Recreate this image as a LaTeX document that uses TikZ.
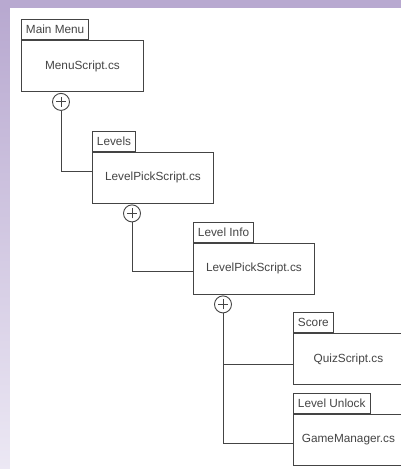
\documentclass[tikz,border=0pt]{standalone}
\usepackage{fontspec}
\setmainfont{Liberation Sans}
\definecolor{bgpurple}{HTML}{B8A9D0}
\definecolor{bglight}{HTML}{ECE8F4}
\definecolor{linegray}{HTML}{444444}
\definecolor{textgray}{HTML}{454545}
\begin{document}
\begin{tikzpicture}[x=1pt,y=-1pt,
  every node/.style={font=\fontsize{11.8}{13}\selectfont, text=textgray},
  lbl/.style={draw=linegray, line width=0.9pt, fill=white, anchor=south west,
    minimum height=20pt, inner xsep=4.5pt, inner ysep=0pt},
  panel/.style={draw=linegray, line width=0.9pt, fill=white, anchor=north west,
    minimum height=51pt, minimum width=121pt},
  wire/.style={draw=linegray, line width=0.9pt},
  plus/.style={circle, draw=linegray, line width=0.9pt, fill=white,
    minimum size=17pt, inner sep=0pt,
    path picture={\draw[linegray, line width=0.9pt]
      ([xshift=-5pt]path picture bounding box.center) -- ([xshift=5pt]path picture bounding box.center)
      ([yshift=-5pt]path picture bounding box.center) -- ([yshift=5pt]path picture bounding box.center);}}
]
% page background: purple frame at top and left, white sheet
\useasboundingbox (0,0) rectangle (401,469);
\fill[bgpurple] (0,0) rectangle (401,469);
\shade[top color=bgpurple, bottom color=bglight] (0,8) rectangle (10,469);
\fill[white] (10,8) rectangle (401,469);

% panels
\node[panel, minimum width=122pt] (menu) at (21,40) {MenuScript.cs};
\node[lbl] (menutab) at (menu.north west) {Main Menu};

\node[panel] (levels) at (92,151.5) {LevelPickScript.cs};
\node[lbl] (levelstab) at (levels.north west) {Levels};

\node[panel] (info) at (193,242.5) {LevelPickScript.cs};
\node[lbl] (infotab) at (info.north west) {Level Info};

\node[panel, minimum width=110pt] (score) at (293,333) {QuizScript.cs};
\node[lbl] (scoretab) at (score.north west) {Score};

\node[panel, minimum width=110pt] (unlock) at (293,413.5) {GameManager.cs};
\node[lbl] (unlocktab) at (unlock.north west) {Level Unlock};

% composition markers
\node[plus] (p1) at ([xshift=40pt, yshift=-10pt]menu.south west) {};
\node[plus] (p2) at ([xshift=40pt, yshift=-10pt]levels.south west) {};
\node[plus] (p3) at ([xshift=30pt, yshift=-10pt]info.south west) {};

% connectors
\coordinate (levelsin) at ([yshift=-20pt]levels.north west);
\coordinate (infoin) at ([yshift=-29pt]info.north west);
\coordinate (scorein) at ([yshift=-31pt]score.north west);
\coordinate (unlockin) at ([yshift=-29.5pt]unlock.north west);
\draw[wire] (p1.south) |- (levelsin);
\draw[wire] (p2.south) |- (infoin);
\draw[wire] (p3.south) |- (unlockin);
\draw[wire] (p3.south |- scorein) -- (scorein);
\end{tikzpicture}
\end{document}
